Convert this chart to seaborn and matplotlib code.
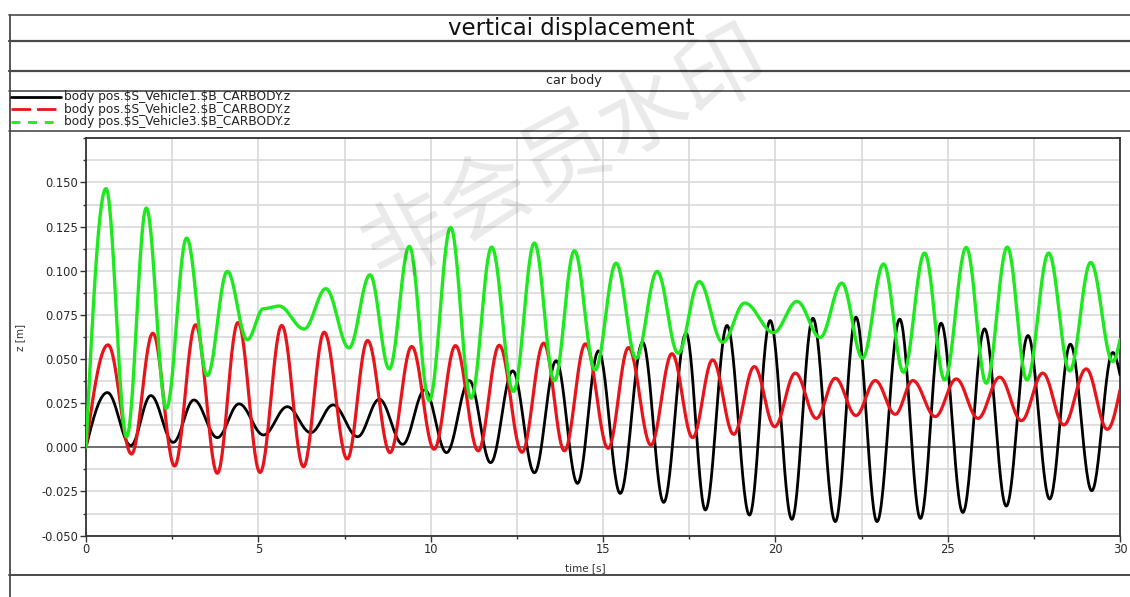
import numpy as np
import pandas as pd
import matplotlib
matplotlib.use("Agg")
import matplotlib.pyplot as plt
import seaborn as sns
from matplotlib.lines import Line2D
from matplotlib.ticker import MultipleLocator, FormatStrFormatter

# ---------------- data ----------------
title = "verticai displacement"
subtitle = "car body"
watermark = "非会员水印"
x_label = "time [s]"
y_label = "z [m]"
series_names = [
    "body pos.$S_Vehicle1.$B_CARBODY.z",
    "body pos.$S_Vehicle2.$B_CARBODY.z",
    "body pos.$S_Vehicle3.$B_CARBODY.z",
]

# turning points (time [s], z [m]) of each curve
black_t = [0.0, 0.62, 1.30, 1.88, 2.53, 3.13, 3.81, 4.44, 5.15, 5.84, 6.52, 7.17, 7.88,
           8.51, 9.19, 9.83, 10.46, 11.12, 11.74, 12.38, 13.01, 13.64, 14.26, 14.87,
           15.50, 16.15, 16.76, 17.41, 17.97, 18.60, 19.25, 19.85, 20.48, 21.09, 21.74,
           22.34, 22.95, 23.61, 24.21, 24.81, 25.44, 26.07, 26.70, 27.33, 27.96, 28.56,
           29.18, 29.79, 30.0]
black_z = [0.0, 0.031, 0.001, 0.0293, 0.0028, 0.0268, 0.0055, 0.0246, 0.007, 0.023,
           0.0083, 0.024, 0.006, 0.0272, 0.0017, 0.0325, -0.003, 0.0378, -0.0087, 0.0433,
           -0.0144, 0.049, -0.0204, 0.0546, -0.0261, 0.0595, -0.0312, 0.0646, -0.0355,
           0.069, -0.0384, 0.0718, -0.0408, 0.0731, -0.0421, 0.0737, -0.0421, 0.0726,
           -0.0403, 0.0703, -0.0369, 0.0671, -0.0333, 0.0633, -0.0293, 0.0584, -0.0246,
           0.0537, 0.041]

red_t = [0.0, 0.64, 1.32, 1.94, 2.57, 3.18, 3.81, 4.41, 5.05, 5.68, 6.31, 6.91, 7.58,
         8.17, 8.82, 9.45, 10.10, 10.72, 11.38, 11.99, 12.65, 13.28, 13.88, 14.49, 15.15,
         15.74, 16.39, 17.0, 17.6, 18.18, 18.79, 19.39, 19.98, 20.58, 21.19, 21.74, 22.34,
         22.90, 23.48, 23.99, 24.64, 25.25, 25.88, 26.51, 27.14, 27.76, 28.37, 29.02,
         29.63, 30.0]
red_z = [0.0, 0.058, -0.0038, 0.0646, -0.0106, 0.0694, -0.0147, 0.0707, -0.0142, 0.069,
         -0.011, 0.0652, -0.0066, 0.0605, -0.003, 0.0571, -0.0011, 0.0576, -0.002, 0.0578,
         -0.0028, 0.059, -0.002, 0.0586, -0.0006, 0.0565, 0.0013, 0.053, 0.0055, 0.0495,
         0.0074, 0.0457, 0.0117, 0.042, 0.0164, 0.0391, 0.018, 0.0378, 0.0187, 0.0378,
         0.0174, 0.0387, 0.0164, 0.0397, 0.0151, 0.0420, 0.0127, 0.0444, 0.0102, 0.0325]

green_t = [0.0, 0.58, 1.18, 1.75, 2.33, 2.92, 3.52, 4.10, 4.68, 5.15, 5.6, 6.33, 6.96,
           7.63, 8.24, 8.80, 9.38, 9.96, 10.58, 11.17, 11.77, 12.40, 13.01, 13.59, 14.17,
           14.77, 15.38, 15.96, 16.57, 17.18, 17.79, 18.47, 19.11, 19.95, 20.63, 21.30,
           21.93, 22.53, 23.14, 23.72, 24.33, 24.91, 25.54, 26.12, 26.73, 27.30, 27.93,
           28.54, 29.15, 29.79, 30.0]
green_z = [0.0, 0.1465, 0.006, 0.1355, 0.022, 0.1185, 0.0406, 0.0996, 0.0609, 0.0785,
           0.0800, 0.067, 0.0898, 0.0563, 0.0977, 0.0444, 0.1138, 0.0265, 0.1245, 0.0278,
           0.1134, 0.0316, 0.1157, 0.0378, 0.1113, 0.0438, 0.1043, 0.0505, 0.0996, 0.0533,
           0.0938, 0.0595, 0.0817, 0.065, 0.0826, 0.0622, 0.093, 0.0505, 0.1038, 0.0425,
           0.110, 0.0382, 0.1132, 0.0363, 0.1134, 0.0382, 0.110, 0.0433, 0.1047, 0.0486,
           0.061]

x_ticks = [0, 5, 10, 15, 20, 25, 30]
y_ticks = [-0.050, -0.025, 0.000, 0.025, 0.050, 0.075, 0.100, 0.125, 0.150]

colors = ["#000000", "#e8141c", "#1ee81e"]

# ---------------- rendering helpers ----------------
def smooth_path(tk, zk, n=30):
    """Draw a smooth half-wave between consecutive turning points."""
    ts, zs = [], []
    last = len(tk) - 2
    for i in range(len(tk) - 1):
        s = np.linspace(0.0, 1.0, n, endpoint=False)
        if i == 0:
            w = np.sin(np.pi / 2 * s)
        elif i == last:
            w = 1 - np.cos(np.pi / 2 * s)
        else:
            w = (1 - np.cos(np.pi * s)) / 2
        ts.append(tk[i] + (tk[i + 1] - tk[i]) * s)
        zs.append(zk[i] + (zk[i + 1] - zk[i]) * w)
    ts.append([tk[-1]])
    zs.append([zk[-1]])
    return np.concatenate(ts), np.concatenate(zs)

frames = []
for name, tk, zk in zip(series_names, [black_t, red_t, green_t], [black_z, red_z, green_z]):
    t, z = smooth_path(tk, zk)
    frames.append(pd.DataFrame({"time": t, "z": z, "series": name}))
df = pd.concat(frames, ignore_index=True)

# ---------------- figure ----------------
sns.set_theme(style="white")
plt.rcParams["font.family"] = ["DejaVu Sans"]
plt.rcParams["text.parse_math"] = False

W, H = 1130, 597
fig = plt.figure(figsize=(W / 100, H / 100), dpi=100)

def fx(x):
    return x / W

def fy(y):
    return 1 - y / H

ax = fig.add_axes([fx(86), fy(535.6), fx(1120) - fx(86), fy(138.3) - fy(535.6)])

widths = [2.0, 2.3, 2.4]
for name, c, lw in zip(series_names, colors, widths):
    sns.lineplot(data=df[df["series"] == name], x="time", y="z", color=c, linewidth=lw,
                 sort=False, estimator=None, ax=ax, legend=False, zorder=3)

ax.set_xlim(0, 30)
ax.set_ylim(-0.05, 0.175)
ax.set_xticks(x_ticks)
ax.set_yticks(y_ticks)
ax.xaxis.set_minor_locator(MultipleLocator(2.5))
ax.yaxis.set_minor_locator(MultipleLocator(0.0125))
ax.yaxis.set_major_formatter(FormatStrFormatter("%.3f"))
ax.grid(which="both", color="#d6d6d6", linewidth=1.1, zorder=0)
ax.set_axisbelow(True)
ax.axhline(0, color="#505050", linewidth=1.1, zorder=2)
ax.tick_params(which="major", direction="out", length=4, width=1, color="#333333",
               labelsize=8.3, labelcolor="#2a2a2a", pad=1.5, left=True, bottom=True)
ax.tick_params(which="minor", direction="out", length=2.5, width=1, color="#333333",
               left=True, bottom=True)
for sp in ax.spines.values():
    sp.set_color("#333333")
    sp.set_linewidth(1.3)

ax.set_xlabel(x_label, fontsize=7.5, color="#333333")
ax.set_ylabel(y_label, fontsize=7.5, color="#333333")
ax.xaxis.set_label_coords(0.483, -0.069)
ax.yaxis.set_label_coords(-0.059, 0.5)

# ---------------- frame / header boxes ----------------
line_kw = dict(color="#4a4a4a", transform=fig.transFigure)
for yy, lw in [(14.5, 1.2), (41.0, 1.6), (70.5, 1.6), (90.5, 1.2), (130.5, 1.2), (574.5, 1.4)]:
    fig.add_artist(Line2D([fx(9), fx(1130)], [fy(yy), fy(yy)], linewidth=lw, **line_kw))
fig.add_artist(Line2D([fx(9.5), fx(9.5)], [fy(14.5), fy(597)], linewidth=1.3, **line_kw))

fig.text(fx(571), fy(28), title, ha="center", va="center", fontsize=16.5, color="#111111")
fig.text(fx(574), fy(80.5), subtitle, ha="center", va="center", fontsize=9.2, color="#222222")

# legend rows
legend_y = [96.8, 109.2, 121.8]
dashes = [None, (7, 2.2), (3.2, 2.8)]
for name, c, yy, dsh in zip(series_names, colors, legend_y, dashes):
    ln = Line2D([fx(11), fx(61)], [fy(yy), fy(yy)], color=c, linewidth=2.0,
                transform=fig.transFigure)
    if dsh is not None:
        ln.set_dashes(dsh)
    fig.add_artist(ln)
    fig.text(fx(63.5), fy(yy), name, ha="left", va="center", fontsize=8.8, color="#222222")

# watermark
fig.text(fx(566), fy(157), watermark, ha="center", va="center", rotation=28,
         rotation_mode="anchor", fontsize=64, color="#000000", alpha=0.085,
         family=["Noto Sans CJK SC", "DejaVu Sans"], zorder=10)

fig.savefig("out.png", dpi=100)
